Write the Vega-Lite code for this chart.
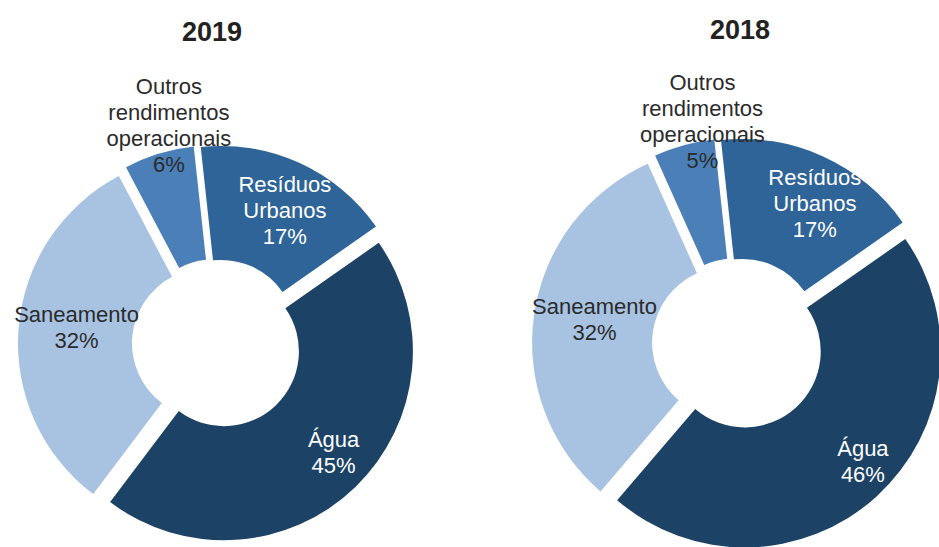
{
  "$schema": "https://vega.github.io/schema/vega-lite/v6.json",
  "padding": {"left": 0, "top": 17, "right": 0, "bottom": 0},
  "bounds": "flush",
  "spacing": 104,
  "background": "white",
  "config": {
    "view": {"stroke": null},
    "text": {"font": "Liberation Sans"},
    "title": {"font": "Liberation Sans", "fontSize": 27, "fontWeight": "bold", "color": "#222222", "anchor": "middle", "offset": 27, "frame": "group"}
  },
  "data": {
    "values": [
      {"ano": "2019", "categoria": "Resíduos Urbanos", "ordem": 1, "valor": 17, "rotulo": "Resíduos\nUrbanos\n17%"},
      {"ano": "2019", "categoria": "Água", "ordem": 2, "valor": 45, "rotulo": "Água\n45%"},
      {"ano": "2019", "categoria": "Saneamento", "ordem": 3, "valor": 32, "rotulo": "Saneamento\n32%"},
      {"ano": "2019", "categoria": "Outros rendimentos operacionais", "ordem": 4, "valor": 6, "rotulo": "Outros\nrendimentos\noperacionais\n6%"},
      {"ano": "2018", "categoria": "Resíduos Urbanos", "ordem": 1, "valor": 17, "rotulo": "Resíduos\nUrbanos\n17%"},
      {"ano": "2018", "categoria": "Água", "ordem": 2, "valor": 46, "rotulo": "Água\n46%"},
      {"ano": "2018", "categoria": "Saneamento", "ordem": 3, "valor": 32, "rotulo": "Saneamento\n32%"},
      {"ano": "2018", "categoria": "Outros rendimentos operacionais", "ordem": 4, "valor": 5, "rotulo": "Outros\nrendimentos\noperacionais\n5%"}
    ]
  },
  "hconcat": [
    {
      "width": 434,
      "height": 420,
      "title": {"text": "2019", "dx": -5, "dy": -2},
      "transform": [
        {"filter": "datum.ano == '2019'"},
        {"stack": "valor", "groupby": ["ano"], "sort": [{"field": "ordem", "order": "ascending"}], "as": ["v0", "v1"]},
        {"calculate": "(datum.v0 + datum.v1) / 2", "as": "meio"}
      ],
      "layer": [
        {
          "transform": [{"filter": "datum.ordem == 1"}],
          "layer": [
            {"mark": {"type": "arc", "radius": 189, "radius2": 75, "xOffset": 4.1, "yOffset": -9.1},
             "encoding": {
               "theta": {"field": "v0", "type": "quantitative", "stack": null, "scale": {"domain": [0, 100], "range": [-0.108, 6.1752], "zero": false, "nice": false}},
               "theta2": {"field": "v1"},
               "color": {"field": "categoria", "type": "nominal", "legend": null, "scale": {"domain": ["Resíduos Urbanos", "Água", "Saneamento", "Outros rendimentos operacionais"], "range": ["#2e6497", "#1c4266", "#a8c3e2", "#4a7fb8"]}}
             }},
            {"mark": {"type": "text", "radius": 149.7, "dx": 6, "dy": -23, "lineBreak": "\n", "fontSize": 22, "lineHeight": 26, "align": "center", "baseline": "middle", "color": "#ffffff"},
             "encoding": {
               "theta": {"field": "meio", "type": "quantitative", "stack": null, "scale": {"domain": [0, 100], "range": [-0.108, 6.1752], "zero": false, "nice": false}},
               "text": {"field": "rotulo", "type": "nominal"}
             }}
          ]
        },
        {
          "transform": [{"filter": "datum.ordem == 2"}],
          "layer": [
            {"mark": {"type": "arc", "radius": 189, "radius2": 75, "xOffset": 6.9, "yOffset": 7.2},
             "encoding": {
               "theta": {"field": "v0", "type": "quantitative", "stack": null, "scale": {"domain": [0, 100], "range": [-0.108, 6.1752], "zero": false, "nice": false}},
               "theta2": {"field": "v1"},
               "color": {"field": "categoria", "type": "nominal", "legend": null, "scale": {"domain": ["Resíduos Urbanos", "Água", "Saneamento", "Outros rendimentos operacionais"], "range": ["#2e6497", "#1c4266", "#a8c3e2", "#4a7fb8"]}}
             }},
            {"mark": {"type": "text", "radius": 159.3, "dx": 6, "dy": -19, "lineBreak": "\n", "fontSize": 22, "lineHeight": 26, "align": "center", "baseline": "middle", "color": "#ffffff"},
             "encoding": {
               "theta": {"field": "meio", "type": "quantitative", "stack": null, "scale": {"domain": [0, 100], "range": [-0.108, 6.1752], "zero": false, "nice": false}},
               "text": {"field": "rotulo", "type": "nominal"}
             }}
          ]
        },
        {
          "transform": [{"filter": "datum.ordem == 3"}],
          "layer": [
            {"mark": {"type": "arc", "radius": 189, "radius2": 75, "xOffset": -10, "yOffset": -0.8},
             "encoding": {
               "theta": {"field": "v0", "type": "quantitative", "stack": null, "scale": {"domain": [0, 100], "range": [-0.108, 6.1752], "zero": false, "nice": false}},
               "theta2": {"field": "v1"},
               "color": {"field": "categoria", "type": "nominal", "legend": null, "scale": {"domain": ["Resíduos Urbanos", "Água", "Saneamento", "Outros rendimentos operacionais"], "range": ["#2e6497", "#1c4266", "#a8c3e2", "#4a7fb8"]}}
             }},
            {"mark": {"type": "text", "radius": 140.9, "dx": 0, "dy": -18, "lineBreak": "\n", "fontSize": 22, "lineHeight": 26, "align": "center", "baseline": "middle", "color": "#2b2b2b"},
             "encoding": {
               "theta": {"field": "meio", "type": "quantitative", "stack": null, "scale": {"domain": [0, 100], "range": [-0.108, 6.1752], "zero": false, "nice": false}},
               "text": {"field": "rotulo", "type": "nominal"}
             }}
          ]
        },
        {
          "transform": [{"filter": "datum.ordem == 4"}],
          "layer": [
            {"mark": {"type": "arc", "radius": 189, "radius2": 75, "xOffset": -2.9, "yOffset": -9.6},
             "encoding": {
               "theta": {"field": "v0", "type": "quantitative", "stack": null, "scale": {"domain": [0, 100], "range": [-0.108, 6.1752], "zero": false, "nice": false}},
               "theta2": {"field": "v1"},
               "color": {"field": "categoria", "type": "nominal", "legend": null, "scale": {"domain": ["Resíduos Urbanos", "Água", "Saneamento", "Outros rendimentos operacionais"], "range": ["#2e6497", "#1c4266", "#a8c3e2", "#4a7fb8"]}}
             }},
            {"mark": {"type": "text", "radius": 222.9, "dx": 17, "dy": -44, "lineBreak": "\n", "fontSize": 22, "lineHeight": 26, "align": "center", "baseline": "middle", "color": "#2b2b2b"},
             "encoding": {
               "theta": {"field": "meio", "type": "quantitative", "stack": null, "scale": {"domain": [0, 100], "range": [-0.108, 6.1752], "zero": false, "nice": false}},
               "text": {"field": "rotulo", "type": "nominal"}
             }}
          ]
        }
      ]
    },
    {
      "width": 400,
      "height": 420,
      "title": {"text": "2018", "dx": 2},
      "transform": [
        {"filter": "datum.ano == '2018'"},
        {"stack": "valor", "groupby": ["ano"], "sort": [{"field": "ordem", "order": "ascending"}], "as": ["v0", "v1"]},
        {"calculate": "(datum.v0 + datum.v1) / 2", "as": "meio"}
      ],
      "layer": [
        {
          "transform": [{"filter": "datum.ordem == 1"}],
          "layer": [
            {"mark": {"type": "arc", "radius": 196, "radius2": 76, "xOffset": 4.1, "yOffset": -9.1},
             "encoding": {
               "theta": {"field": "v0", "type": "quantitative", "stack": null, "scale": {"domain": [0, 100], "range": [-0.108, 6.1752], "zero": false, "nice": false}},
               "theta2": {"field": "v1"},
               "color": {"field": "categoria", "type": "nominal", "legend": null, "scale": {"domain": ["Resíduos Urbanos", "Água", "Saneamento", "Outros rendimentos operacionais"], "range": ["#2e6497", "#1c4266", "#a8c3e2", "#4a7fb8"]}}
             }},
            {"mark": {"type": "text", "radius": 159.3, "dx": 11, "dy": -21, "lineBreak": "\n", "fontSize": 22, "lineHeight": 26, "align": "center", "baseline": "middle", "color": "#ffffff"},
             "encoding": {
               "theta": {"field": "meio", "type": "quantitative", "stack": null, "scale": {"domain": [0, 100], "range": [-0.108, 6.1752], "zero": false, "nice": false}},
               "text": {"field": "rotulo", "type": "nominal"}
             }}
          ]
        },
        {
          "transform": [{"filter": "datum.ordem == 2"}],
          "layer": [
            {"mark": {"type": "arc", "radius": 196, "radius2": 76, "xOffset": 6.7, "yOffset": 7.4},
             "encoding": {
               "theta": {"field": "v0", "type": "quantitative", "stack": null, "scale": {"domain": [0, 100], "range": [-0.108, 6.1752], "zero": false, "nice": false}},
               "theta2": {"field": "v1"},
               "color": {"field": "categoria", "type": "nominal", "legend": null, "scale": {"domain": ["Resíduos Urbanos", "Água", "Saneamento", "Outros rendimentos operacionais"], "range": ["#2e6497", "#1c4266", "#a8c3e2", "#4a7fb8"]}}
             }},
            {"mark": {"type": "text", "radius": 171.1, "dx": 10, "dy": -22, "lineBreak": "\n", "fontSize": 22, "lineHeight": 26, "align": "center", "baseline": "middle", "color": "#ffffff"},
             "encoding": {
               "theta": {"field": "meio", "type": "quantitative", "stack": null, "scale": {"domain": [0, 100], "range": [-0.108, 6.1752], "zero": false, "nice": false}},
               "text": {"field": "rotulo", "type": "nominal"}
             }}
          ]
        },
        {
          "transform": [{"filter": "datum.ordem == 3"}],
          "layer": [
            {"mark": {"type": "arc", "radius": 196, "radius2": 76, "xOffset": -9.9, "yOffset": -1.4},
             "encoding": {
               "theta": {"field": "v0", "type": "quantitative", "stack": null, "scale": {"domain": [0, 100], "range": [-0.108, 6.1752], "zero": false, "nice": false}},
               "theta2": {"field": "v1"},
               "color": {"field": "categoria", "type": "nominal", "legend": null, "scale": {"domain": ["Resíduos Urbanos", "Água", "Saneamento", "Outros rendimentos operacionais"], "range": ["#2e6497", "#1c4266", "#a8c3e2", "#4a7fb8"]}}
             }},
            {"mark": {"type": "text", "radius": 145, "dx": 0, "dy": -16, "lineBreak": "\n", "fontSize": 22, "lineHeight": 26, "align": "center", "baseline": "middle", "color": "#2b2b2b"},
             "encoding": {
               "theta": {"field": "meio", "type": "quantitative", "stack": null, "scale": {"domain": [0, 100], "range": [-0.108, 6.1752], "zero": false, "nice": false}},
               "text": {"field": "rotulo", "type": "nominal"}
             }}
          ]
        },
        {
          "transform": [{"filter": "datum.ordem == 4"}],
          "layer": [
            {"mark": {"type": "arc", "radius": 196, "radius2": 76, "xOffset": -2.6, "yOffset": -9.7},
             "encoding": {
               "theta": {"field": "v0", "type": "quantitative", "stack": null, "scale": {"domain": [0, 100], "range": [-0.108, 6.1752], "zero": false, "nice": false}},
               "theta2": {"field": "v1"},
               "color": {"field": "categoria", "type": "nominal", "legend": null, "scale": {"domain": ["Resíduos Urbanos", "Água", "Saneamento", "Outros rendimentos operacionais"], "range": ["#2e6497", "#1c4266", "#a8c3e2", "#4a7fb8"]}}
             }},
            {"mark": {"type": "text", "radius": 223.4, "dx": 23, "dy": -45, "lineBreak": "\n", "fontSize": 22, "lineHeight": 26, "align": "center", "baseline": "middle", "color": "#2b2b2b"},
             "encoding": {
               "theta": {"field": "meio", "type": "quantitative", "stack": null, "scale": {"domain": [0, 100], "range": [-0.108, 6.1752], "zero": false, "nice": false}},
               "text": {"field": "rotulo", "type": "nominal"}
             }}
          ]
        }
      ]
    }
  ]
}
